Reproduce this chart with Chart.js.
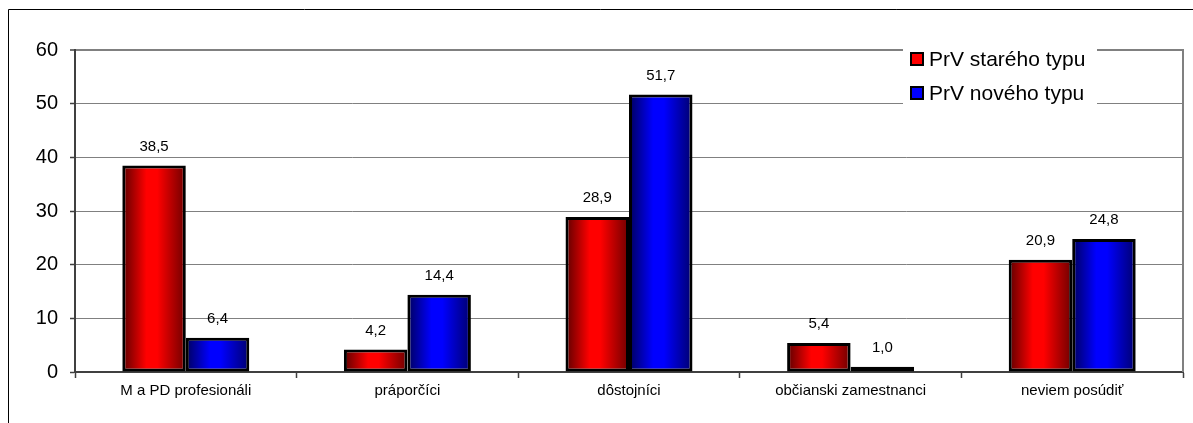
<!DOCTYPE html>
<html>
<head>
<meta charset="utf-8">
<script src="https://cdn.jsdelivr.net/npm/chart.js@4/dist/chart.umd.min.js"></script>
<style>
  html, body { margin: 0; padding: 0; background: #fff; }
  #wrap { position: relative; width: 1193px; height: 423px; overflow: hidden; }
  canvas { position: absolute; left: 0; top: 0; }
</style>
</head>
<body>
<div id="wrap"><canvas id="c" width="1193" height="423"></canvas></div>
<script>
// Survey answers (percent) by group
const categories = ['M a PD profesionáli', 'práporčíci', 'dôstojníci', 'občianski zamestnanci', 'neviem posúdiť'];
const seriesNames = ['PrV starého typu', 'PrV nového typu'];
const oldType = [38.5, 4.2, 28.9, 5.4, 20.9];
const newType = [6.4, 14.4, 51.7, 1.0, 24.8];
const yTicks = [0, 10, 20, 30, 40, 50, 60];

const FONT = '"Liberation Sans", Arial, sans-serif';
const palettes = [
  { base: '#ff0000', dark: '#5c0000', darkR: '#6e0000' },
  { base: '#0000ff', dark: '#00005c', darkR: '#00006e' }
];

const fmt = v => v.toFixed(1).replace('.', ',');

// Outer frame, plot border on the right, and the horizontal shading of each bar
const decor = {
  id: 'decor',
  beforeDraw(chart) {
    const c = chart.ctx;
    c.save();
    c.strokeStyle = '#000';
    c.lineWidth = 1;
    c.beginPath();
    c.moveTo(8.5, 423);
    c.lineTo(8.5, 9.5);
    c.lineTo(1193, 9.5);
    c.stroke();
    c.restore();
  },
  beforeDatasetsDraw(chart) {
    const c = chart.ctx;
    chart.data.datasets.forEach((ds, i) => {
      const p = palettes[i];
      chart.getDatasetMeta(i).data.forEach(bar => {
        const x0 = bar.x - bar.width / 2, x1 = bar.x + bar.width / 2;
        const g = c.createLinearGradient(x0, 0, x1, 0);
        g.addColorStop(0, p.dark);
        g.addColorStop(0.38, p.base);
        g.addColorStop(0.55, p.base);
        g.addColorStop(1, p.darkR);
        // each bar gets its own options copy so the gradient follows its own x range
        bar.options = Object.assign({}, bar.options, { backgroundColor: g });
      });
    });
  },
  afterDatasetsDraw(chart) {
    const c = chart.ctx;
    const a = chart.chartArea;
    c.save();
    // right edge of the plot area
    c.strokeStyle = '#808080';
    c.lineWidth = 2;
    c.beginPath();
    c.moveTo(a.right, a.top - 1);
    c.lineTo(a.right, a.bottom);
    c.stroke();
    // value labels
    c.fillStyle = '#000';
    c.font = '15px ' + FONT;
    c.textAlign = 'center';
    c.textBaseline = 'middle';
    chart.data.datasets.forEach((ds, i) => {
      chart.getDatasetMeta(i).data.forEach((bar, j) => {
        c.fillText(fmt(ds.data[j]), bar.x, bar.y - 19);
      });
    });
    // legend
    c.fillStyle = '#fff';
    c.fillRect(903, 43, 194, 66);
    const fills = ['#ff0000', '#0000ff'];
    seriesNames.forEach((name, i) => {
      const cy = 59 + i * 34;
      c.fillStyle = fills[i];
      c.fillRect(911, cy - 6, 12, 12);
      c.strokeStyle = '#000';
      c.lineWidth = 2;
      c.strokeRect(911, cy - 6, 12, 12);
      c.fillStyle = '#000';
      c.font = '21px ' + FONT;
      c.textAlign = 'left';
      c.textBaseline = 'middle';
      c.fillText(name, 929, cy + 1);
    });
    c.restore();
  }
};

new Chart(document.getElementById('c'), {
  type: 'bar',
  data: {
    labels: categories,
    datasets: [
      { label: seriesNames[0], data: oldType, backgroundColor: '#ff0000' },
      { label: seriesNames[1], data: newType, backgroundColor: '#0000ff' }
    ]
  },
  options: {
    responsive: false,
    animation: false,
    layout: { padding: { top: 50, right: 10, left: 0, bottom: 0 } },
    datasets: {
      bar: {
        borderColor: '#000',
        borderWidth: 3,
        borderSkipped: false,
        barPercentage: 1,
        categoryPercentage: 0.573
      }
    },
    plugins: {
      legend: { display: false },
      tooltip: { enabled: false }
    },
    scales: {
      x: {
        afterFit(s) { s.height = 51; },
        grid: {
          offset: true,
          drawOnChartArea: false,
          tickLength: 6,
          tickColor: '#404040',
          tickWidth: 1.5
        },
        border: { color: '#404040', width: 2 },
        ticks: { color: '#000', font: { family: FONT, size: 15 }, padding: 4 }
      },
      y: {
        min: 0,
        max: 60,
        afterFit(s) { s.width = 75; },
        afterBuildTicks(s) { s.ticks = yTicks.map(v => ({ value: v })); },
        grid: {
          color: '#808080',
          lineWidth: ctx => (ctx.tick && ctx.tick.value === 60 ? 2 : 1),
          tickLength: 5,
          tickColor: '#404040',
          tickWidth: 1.5
        },
        border: { color: '#404040', width: 2 },
        ticks: { color: '#000', font: { family: FONT, size: 20 }, padding: 12 }
      }
    }
  },
  plugins: [decor]
});
</script>
</body>
</html>
